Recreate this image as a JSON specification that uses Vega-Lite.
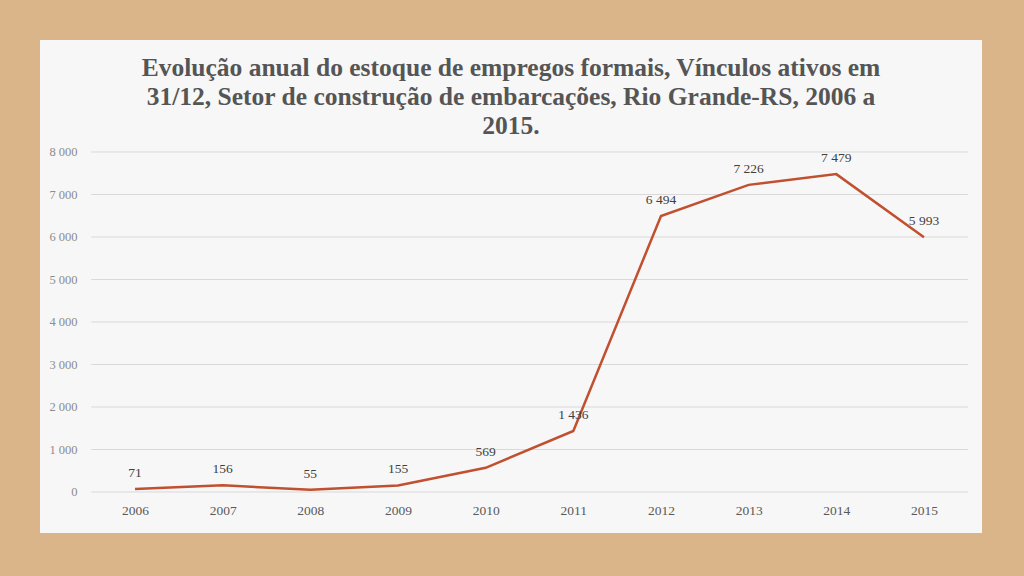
{
  "$schema": "https://vega.github.io/schema/vega-lite/v6.json",
  "width": 942,
  "height": 493,
  "autosize": {"type": "none"},
  "padding": {"left": 40, "top": 40, "right": 42, "bottom": 43},
  "background": "#d9b589",
  "config": {
    "view": {"fill": "#f7f7f7", "stroke": null},
    "locale": {"number": {"decimal": ",", "thousands": " ", "grouping": [3], "currency": ["", ""]}},
    "font": "Liberation Serif"
  },
  "title": {
    "text": ["Evolução anual do estoque de empregos formais, Vínculos ativos em", "31/12, Setor de construção de embarcações, Rio Grande-RS, 2006 a", "2015."],
    "anchor": "middle",
    "frame": "group",
    "font": "Liberation Serif",
    "fontSize": 25.5,
    "fontWeight": "bold",
    "color": "#555555",
    "lineHeight": 29,
    "offset": -99
  },
  "datasets": {
    "grid": [{"g": 0}, {"g": 1000}, {"g": 2000}, {"g": 3000}, {"g": 4000}, {"g": 5000}, {"g": 6000}, {"g": 7000}, {"g": 8000}],
    "series": [
      {"ano": 2006, "vinculos": 71},
      {"ano": 2007, "vinculos": 156},
      {"ano": 2008, "vinculos": 55},
      {"ano": 2009, "vinculos": 155},
      {"ano": 2010, "vinculos": 569},
      {"ano": 2011, "vinculos": 1436},
      {"ano": 2012, "vinculos": 6494},
      {"ano": 2013, "vinculos": 7226},
      {"ano": 2014, "vinculos": 7479},
      {"ano": 2015, "vinculos": 5993}
    ]
  },
  "layer": [
    {
      "data": {"name": "grid"},
      "mark": {"type": "rule", "color": "#d9d9d9", "strokeWidth": 1},
      "encoding": {
        "x": {"datum": 2005.5, "type": "quantitative"},
        "x2": {"datum": 2015.5},
        "y": {"field": "g", "type": "quantitative"}
      }
    },
    {
      "data": {"name": "series"},
      "mark": {"type": "line", "color": "#c0502f", "strokeWidth": 2.5},
      "encoding": {
        "x": {
          "field": "ano", "type": "quantitative",
          "scale": {"domain": [2004.916, 2015.662], "nice": false, "zero": false},
          "axis": {
            "title": null, "values": [2006, 2007, 2008, 2009, 2010, 2011, 2012, 2013, 2014, 2015],
            "labelExpr": "'' + datum.value", "grid": false, "domain": false, "ticks": false,
            "offset": -41, "labelPadding": 11, "labelFontSize": 13.5,
            "labelColor": "#595959", "labelFont": "Liberation Serif"
          }
        },
        "y": {
          "field": "vinculos", "type": "quantitative",
          "scale": {"domain": [-965, 10635], "nice": false, "zero": false},
          "axis": {
            "title": null, "values": [0, 1000, 2000, 3000, 4000, 5000, 6000, 7000, 8000],
            "labelExpr": "format(datum.value, ',')", "grid": false, "domain": false, "ticks": false,
            "offset": -40, "labelPadding": 3, "labelFontSize": 12.5,
            "labelColor": "#8c8c8c", "labelFont": "Liberation Serif"
          }
        }
      }
    },
    {
      "data": {"name": "series"},
      "mark": {"type": "text", "dy": -16, "fontSize": 13.5, "color": "#404040", "baseline": "middle", "align": "center"},
      "encoding": {
        "x": {"field": "ano", "type": "quantitative"},
        "y": {"field": "vinculos", "type": "quantitative"},
        "text": {"field": "vinculos", "type": "quantitative", "format": ","}
      }
    }
  ]
}
